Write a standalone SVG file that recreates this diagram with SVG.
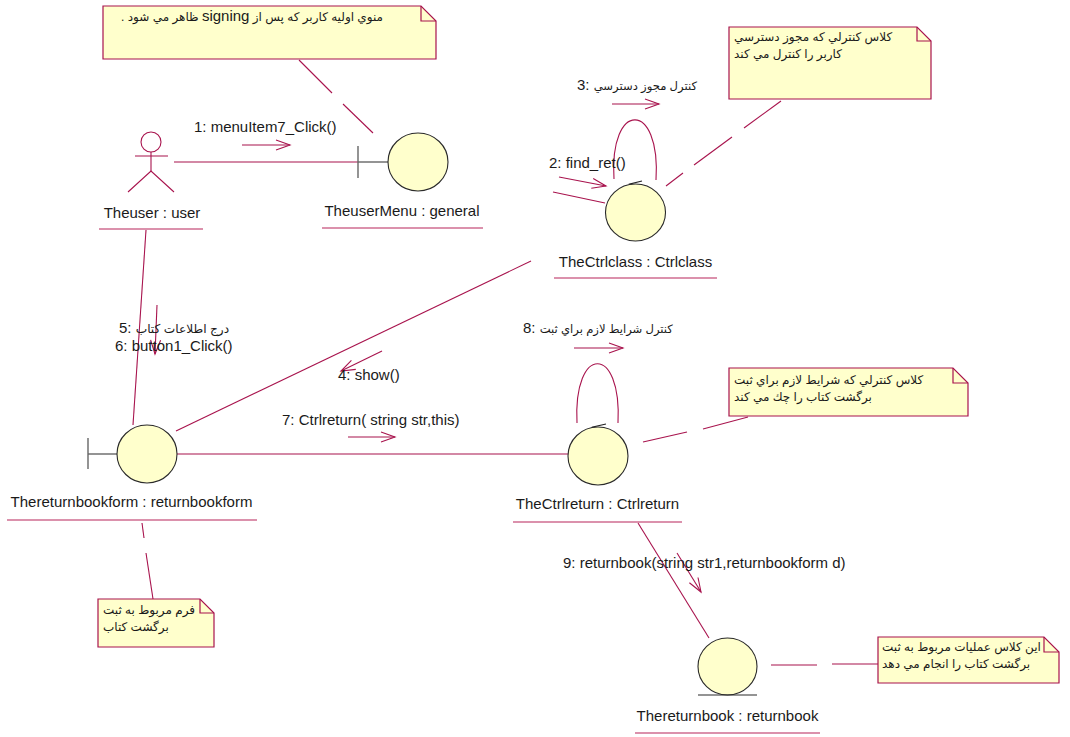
<svg xmlns="http://www.w3.org/2000/svg" width="1070" height="737" viewBox="0 0 1070 737">
<style>
text{font-family:"Liberation Sans","DejaVu Sans",Arial,sans-serif;fill:#1a1a1a}
.lbl{font-size:15px;text-anchor:middle}
.msg{font-size:15px}
.fa{font-size:11.6px}
.num{font-size:15px}
.nt{font-size:12px}
.ln{stroke:#a8134d;stroke-width:1.1;fill:none}
.ul{stroke:#b8245a;stroke-width:1.1}
.note{fill:#ffffcc;stroke:#a8134d;stroke-width:1.2}
.obj{fill:#ffffcc;stroke:#2a2a2a;stroke-width:1.1}
.bnd{stroke:#666;stroke-width:1.4;fill:none}
.act{stroke:#a8134d;stroke-width:1.1;fill:none}
</style>
<rect width="1070" height="737" fill="#fff"/>

<g id="connectors">
  <!-- links -->
  <line class="ln" x1="174" y1="162" x2="358" y2="162"/>
  <line class="ln" x1="146" y1="230" x2="133" y2="425"/>
  <line class="ln" x1="531" y1="261" x2="176" y2="431"/>
  <line class="ln" x1="553" y1="192" x2="605" y2="203"/>
  <line class="ln" x1="177" y1="454" x2="568" y2="454"/>
  <line class="ln" x1="638" y1="523" x2="709" y2="638"/>
  <!-- self loops -->
  <path class="ln" d="M614,179 C609,100 661,100 656,180"/>
  <polyline class="ln" points="642,181 630,184 643,190" style="stroke:#222"/>
  <path class="ln" d="M577,423 C573,344 622,344 618,423"/>
  <polyline class="ln" points="606,424 593,427 605,434" style="stroke:#222"/>
  <!-- note anchors (dashed) -->
  <line class="ln" x1="299" y1="60" x2="332" y2="93"/>
  <line class="ln" x1="343" y1="104" x2="373" y2="133"/>
  <line class="ln" x1="666" y1="186" x2="683" y2="173"/>
  <line class="ln" x1="694" y1="165" x2="732" y2="137"/>
  <line class="ln" x1="744" y1="128" x2="781" y2="101"/>
  <line class="ln" x1="643" y1="442" x2="687" y2="432"/>
  <line class="ln" x1="703" y1="429" x2="748" y2="417"/>
  <line class="ln" x1="771" y1="665" x2="817" y2="665"/>
  <line class="ln" x1="832" y1="664" x2="878" y2="664"/>
  <line class="ln" x1="142" y1="523" x2="144" y2="538"/>
  <line class="ln" x1="146" y1="553" x2="153" y2="599"/>
  <!-- message arrows -->
  <g id="m1"><line class="ln" x1="242" y1="145" x2="290" y2="145"/><polyline class="ln" points="276,140 290,145 276,150"/></g>
  <g id="m2"><line class="ln" x1="559" y1="177" x2="606" y2="186"/><polyline class="ln" points="593.2,178.5 606,186 591.3,188.3"/></g>
  <g id="m3"><line class="ln" x1="612" y1="104" x2="659" y2="104"/><polyline class="ln" points="645,99 659,104 645,109"/></g>
  <g id="m4"><line class="ln" x1="382" y1="351" x2="341" y2="371"/><polyline class="ln" points="351.4,360.4 341,371 355.8,369.4"/></g>
  <g id="m5"><line class="ln" x1="157" y1="305" x2="155" y2="354"/><polyline class="ln" points="150.6,339.8 155,354 160.6,340.2"/></g>
  <g id="m7"><line class="ln" x1="348" y1="437" x2="395" y2="437"/><polyline class="ln" points="381,432 395,437 381,442"/></g>
  <g id="m8"><line class="ln" x1="574" y1="348" x2="623" y2="348"/><polyline class="ln" points="609,343 623,348 609,353"/></g>
  <g id="m9"><line class="ln" x1="677" y1="553" x2="701" y2="592"/><polyline class="ln" points="689.4,582.7 701,592 698,577.5"/></g>
  <!-- message labels -->
  <text class="msg" x="194" y="132">1: menuItem7_Click()</text>
  <text class="msg" x="549" y="168">2: find_ret()</text>
  <text class="fa" x="577" y="90"><tspan class="num">3: </tspan>كنترل مجوز دسترسي</text>
  <text class="msg" x="338" y="380">4: show()</text>
  <text class="fa" x="119" y="333" style="font-size:12.2px"><tspan class="num">5: </tspan>درج اطلاعات كتاب</text>
  <text class="msg" x="115" y="351">6: button1_Click()</text>
  <text class="msg" x="282" y="425">7: Ctrlreturn( string str,this)</text>
  <text class="fa" x="523" y="333"><tspan class="num">8: </tspan>كنترل شرايط لازم براي ثبت</text>
  <text class="msg" x="563" y="568">9: returnbook(string str1,returnbookform d)</text>
</g>

<g id="note-menu">
  <path class="note" d="M103,6 H421 L436,21 V59 H103 Z"/>
  <polyline class="note" points="421,6 421,21 436,21" style="fill:none"/>
  <text class="nt" x="383" y="21" direction="rtl" text-anchor="start">منوي اوليه كاربر كه پس از  <tspan style="font-size:15px">signing</tspan> ظاهر مي شود .</text>
</g>

<g id="Theuser">
  <circle class="act" cx="151" cy="142" r="10"/>
  <line class="act" x1="135" y1="156" x2="168" y2="156"/>
  <line class="act" x1="151" y1="152" x2="151" y2="171"/>
  <polyline class="act" points="128,192 151,171 174,192"/>
  <text class="lbl" x="152" y="218">Theuser : user</text>
  <line class="ul" x1="99" y1="229" x2="203" y2="229"/>
</g>

<g id="TheuserMenu">
  <line class="bnd" x1="358" y1="146" x2="358" y2="178"/>
  <line class="bnd" x1="358" y1="162" x2="388" y2="162"/>
  <ellipse class="obj" cx="418" cy="162" rx="30" ry="29"/>
  <text class="lbl" x="402" y="216">TheuserMenu : general</text>
  <line class="ul" x1="322" y1="228" x2="483" y2="228"/>
</g>

<g id="note-ctrlclass">
  <path class="note" d="M729,27 H917 L931,41 V99 H729 Z"/>
  <polyline class="note" points="917,27 917,41 931,41" style="fill:none"/>
  <text class="nt" x="734" y="41">كلاس كنترلي كه مجوز دسترسي</text>
  <text class="nt" x="734" y="58">كاربر را كنترل مي كند</text>
</g>

<g id="TheCtrlclass">
  <ellipse class="obj" cx="635.5" cy="212.5" rx="30" ry="28.5"/>
  <text class="lbl" x="635.5" y="267">TheCtrlclass : Ctrlclass</text>
  <line class="ul" x1="554" y1="278" x2="717" y2="278"/>
</g>

<g id="Thereturnbookform">
  <line class="bnd" x1="88" y1="438" x2="88" y2="469"/>
  <line class="bnd" x1="88" y1="454" x2="117" y2="454"/>
  <ellipse class="obj" cx="147" cy="454" rx="30" ry="29"/>
  <text class="lbl" x="131.5" y="507">Thereturnbookform : returnbookform</text>
  <line class="ul" x1="7" y1="520" x2="257" y2="520"/>
</g>

<g id="note-form">
  <path class="note" d="M98,599 H200 L214,613 V647 H98 Z"/>
  <polyline class="note" points="200,599 200,613 214,613" style="fill:none"/>
  <text class="nt" x="103" y="614">فرم مربوط به ثبت</text>
  <text class="nt" x="103" y="631">برگشت كتاب</text>
</g>

<g id="TheCtrlreturn">
  <ellipse class="obj" cx="598" cy="456" rx="30" ry="29"/>
  <text class="lbl" x="597.5" y="509">TheCtrlreturn : Ctrlreturn</text>
  <line class="ul" x1="513" y1="522" x2="682" y2="522"/>
</g>

<g id="note-ctrlreturn">
  <path class="note" d="M729,368 H953 L968,383 V416 H729 Z"/>
  <polyline class="note" points="953,368 953,383 968,383" style="fill:none"/>
  <text class="nt" x="734" y="384">كلاس كنترلي كه شرايط لازم براي ثبت</text>
  <text class="nt" x="734" y="401">برگشت كتاب را چك مي كند</text>
</g>

<g id="Thereturnbook">
  <ellipse class="obj" cx="727.5" cy="666.5" rx="29.5" ry="28.5"/>
  <line x1="698" y1="695" x2="757" y2="695" stroke="#2a2a2a" stroke-width="1.2"/>
  <text class="lbl" x="727.5" y="721">Thereturnbook : returnbook</text>
  <line class="ul" x1="635" y1="733" x2="820" y2="733"/>
</g>

<g id="note-returnbook">
  <path class="note" d="M878,637 H1044 L1059,652 V683 H878 Z"/>
  <polyline class="note" points="1044,637 1044,652 1059,652" style="fill:none"/>
  <text class="nt" x="882" y="651">اين كلاس عمليات مربوط به ثبت</text>
  <text class="nt" x="882" y="668">برگشت كتاب را انجام  مي دهد</text>
</g>
</svg>
